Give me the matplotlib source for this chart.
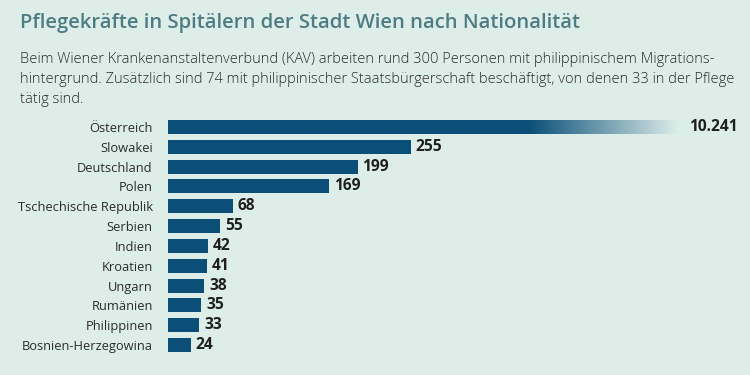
import matplotlib.pyplot as plt
import numpy as np
from matplotlib.colors import to_rgb

countries = ['Österreich', 'Slowakei', 'Deutschland', 'Polen', 'Tschechische Republik',
             'Serbien', 'Indien', 'Kroatien', 'Ungarn', 'Rumänien', 'Philippinen',
             'Bosnien-Herzegowina']
values = [10241, 255, 199, 169, 68, 55, 42, 41, 38, 35, 33, 24]
value_labels = ['10.241', '255', '199', '169', '68', '55', '42', '41', '38', '35', '33', '24']

title = 'Pflegekräfte in Spitälern der Stadt Wien nach Nationalität'
subtitle = ('Beim Wiener Krankenanstaltenverbund (KAV) arbeiten rund 300 Personen mit philippinischem Migrations-\n'
            'hintergrund. Zusätzlich sind 74 mit philippinischer Staatsbürgerschaft beschäftigt, von denen 33 in der Pflege\n'
            'tätig sind.')

BG = '#ddeee9'
BAR = '#0b4f78'
TITLE_C = '#4e7c82'
TEXT_C = '#2b2b2b'

# the outlier bar is cut off and fades out
CAP = 537
FADE_START = 380

fig = plt.figure(figsize=(7.5, 3.75), dpi=100, facecolor=BG)
ax = fig.add_axes([168 / 750, 20 / 375, 582 / 750, 238 / 375])
ax.set_facecolor(BG)

y = np.arange(len(countries))
shown = [min(v, CAP) for v in values]
bar_h = 0.7
bars = ax.barh(y, shown, height=bar_h, color=BAR)

# gradient on the capped bar
bars[0].set_visible(False)
n = 300
xs = np.linspace(0, CAP, n)
alpha = np.clip(1 - (xs - FADE_START) / (CAP - FADE_START), 0, 1)
img = np.zeros((1, n, 4))
img[..., :3] = to_rgb(BAR)
img[..., 3] = alpha
ax.imshow(img, extent=(0, CAP, y[0] + bar_h / 2, y[0] - bar_h / 2), aspect='auto',
          interpolation='bilinear', zorder=2)
ax.set_xlim(0, 582 / 0.953)
ax.set_ylim(len(countries) - 0.5, -0.5)

for yi, s, lab in zip(y, shown, value_labels):
    ax.text(s + 5 if s < CAP else s + 10, yi, lab, va='center', ha='left', fontsize=11.2,
            fontweight='bold', color='#1f1f1f', family='Open Sans')

ax.set_yticks(y)
ax.set_yticklabels(countries, fontsize=9.3, color=TEXT_C, family='Open Sans')
ax.tick_params(axis='y', length=0, pad=11)
ax.set_xticks([])
for sp in ax.spines.values():
    sp.set_visible(False)

fig.text(20 / 750, 1 - 23 / 375, title, fontsize=14.6, color=TITLE_C, va='center',
         ha='left', family='Open Sans', fontweight='semibold')
fig.text(20 / 750, 1 - 52 / 375, subtitle, fontsize=10.55, color=TEXT_C, va='top',
         ha='left', family='Open Sans', fontweight='light', linespacing=1.45)

fig.savefig('out.png', dpi=100, facecolor=BG)
